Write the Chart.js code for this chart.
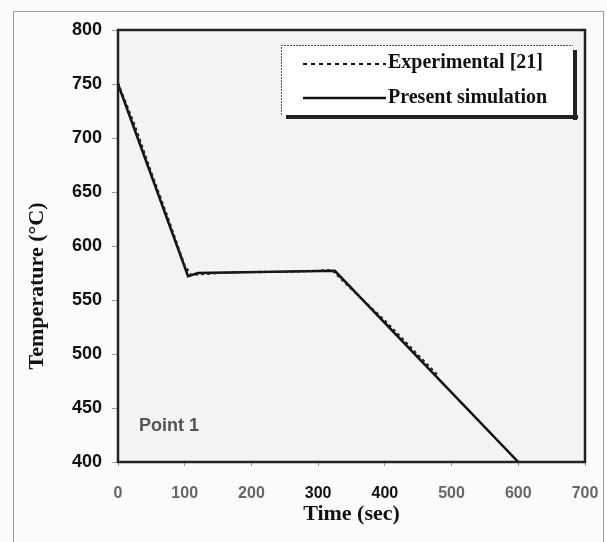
<!DOCTYPE html>
<html>
<head>
<meta charset="utf-8">
<script src="https://cdn.jsdelivr.net/npm/chart.js@4.4.1/dist/chart.umd.min.js"></script>
<style>
  body { margin: 0; background: #fbfbfb; }
  #wrap { width: 607px; height: 542px; }
</style>
</head>
<body>
<div id="wrap"><canvas id="myChart" width="607" height="542"></canvas></div>
<script>
// values
var simTime = [0, 105, 120, 325, 600];
var simTemp = [750, 572, 575, 577, 400];

var expTime = [0, 25, 50, 75, 100, 110, 150, 200, 250, 300, 320, 350, 400, 450, 480];
var expTemp = [751, 712, 668, 626, 582, 573, 575, 576, 576, 577, 578, 560, 531, 499, 480];

var xTicks = [0, 100, 200, 300, 400, 500, 600, 700];
var yTicks = [400, 450, 500, 550, 600, 650, 700, 750, 800];

var seriesNames = ['Experimental [21]', 'Present simulation'];
var yTitle = 'Temperature (\u00B0C)';

function toPoints(xs, ys) {
    var pts = [];
    xs.forEach(function (x, i) { pts.push({ x: x, y: ys[i] }); });
    return pts;
}

// frame, plot background, legend box and labels
var decor = {
    id: 'decor',
    beforeDraw: function (chart) {
        var c = chart.ctx, a = chart.chartArea;
        c.save();
        c.strokeStyle = '#999';
        c.lineWidth = 1;
        c.beginPath();
        c.moveTo(13.5, 542); c.lineTo(13.5, 11.5); c.lineTo(603.5, 11.5); c.lineTo(603.5, 542);
        c.stroke();
        c.fillStyle = '#f3f3f3';
        c.fillRect(a.left, a.top, a.right - a.left, a.bottom - a.top);
        c.restore();
    },
    afterDatasetsDraw: function (chart) {
        var c = chart.ctx, a = chart.chartArea;
        c.save();
        c.strokeStyle = '#222';
        c.lineWidth = 2.5;
        c.strokeRect(a.left, a.top, a.right - a.left, a.bottom - a.top);

        // legend
        var lx = 281, ly = 45, lw = 292, lh = 70;
        c.fillStyle = '#222';
        c.fillRect(lx + 5, ly + lh, lw, 4);
        c.fillRect(lx + lw, ly + 5, 4, lh);
        c.fillStyle = '#ffffff';
        c.fillRect(lx, ly, lw, lh);
        c.strokeStyle = '#555';
        c.lineWidth = 1;
        c.setLineDash([2, 1]);
        c.beginPath();
        c.moveTo(lx + 0.5, ly + lh); c.lineTo(lx + 0.5, ly + 0.5); c.lineTo(lx + lw, ly + 0.5);
        c.stroke();

        c.strokeStyle = '#111';
        c.lineWidth = 2;
        c.setLineDash([4, 4]);
        c.beginPath(); c.moveTo(303, 64); c.lineTo(386, 64); c.stroke();
        c.setLineDash([]);
        c.lineWidth = 2.5;
        c.beginPath(); c.moveTo(303, 98); c.lineTo(386, 98); c.stroke();

        c.fillStyle = '#111';
        c.font = 'bold 20px "Liberation Serif", "DejaVu Serif", serif';
        c.textBaseline = 'middle';
        c.fillText(seriesNames[0], 388, 63);
        c.fillText(seriesNames[1], 388, 98);

        c.fillStyle = '#555';
        c.font = 'bold 18px "Liberation Sans", Arial, sans-serif';
        c.fillText('Point 1', 139, 426);

        // y axis title, sits a little below the middle as in the source
        c.fillStyle = '#111';
        c.font = 'bold 22px "Liberation Serif", serif';
        c.textAlign = 'center';
        c.translate(37, 286);
        c.rotate(-Math.PI / 2);
        c.fillText(yTitle, 0, 0);
        c.restore();
    }
};

var ctx = document.getElementById('myChart').getContext('2d');

var chart = new Chart(ctx, {
    type: 'line',
    data: {
        datasets: [{
            label: seriesNames[0],
            data: toPoints(expTime, expTemp),
            borderColor: '#222',
            borderWidth: 2,
            borderDash: [3, 3],
            pointRadius: 0,
            tension: 0
        }, {
            label: seriesNames[1],
            data: toPoints(simTime, simTemp),
            borderColor: '#111',
            borderWidth: 2.5,
            pointRadius: 0,
            tension: 0
        }]
    },
    options: {
        responsive: false,
        animation: false,
        layout: { padding: { top: 30, right: 22, left: 0, bottom: 0 } },
        plugins: {
            legend: { display: false },
            tooltip: { enabled: false }
        },
        scales: {
            x: {
                type: 'linear',
                min: 0,
                max: 700,
                afterBuildTicks: function (s) { s.ticks = xTicks.map(function (v) { return { value: v }; }); },
                afterFit: function (s) { s.height = 80; s.paddingLeft = 0; s.paddingRight = 0; },
                grid: { display: true, drawOnChartArea: false, tickLength: 4, color: '#999' },
                border: { display: false },
                ticks: {
                    color: function (c) { return (c.tick.value === 300 || c.tick.value === 400) ? '#111' : '#666'; },
                    padding: 18,
                    maxRotation: 0,
                    font: { family: '"Liberation Sans", Arial, sans-serif', size: 16, weight: 'bold' }
                },
                title: {
                    display: true,
                    text: 'Time (sec)',
                    color: '#111',
                    padding: { top: 0, bottom: 14 },
                    font: { family: '"Liberation Serif", serif', size: 22, weight: 'bold' }
                }
            },
            y: {
                min: 400,
                max: 800,
                afterBuildTicks: function (s) { s.ticks = yTicks.map(function (v) { return { value: v }; }); },
                afterFit: function (s) { s.width = 118; s.paddingTop = 0; s.paddingBottom = 0; },
                grid: { display: true, drawOnChartArea: false, tickLength: 6, color: '#999' },
                border: { display: false },
                ticks: {
                    color: '#111',
                    padding: 10,
                    font: { family: '"Liberation Sans", Arial, sans-serif', size: 18, weight: 'bold' }
                },
                title: { display: false }
            }
        }
    },
    plugins: [decor]
});
</script>
</body>
</html>
